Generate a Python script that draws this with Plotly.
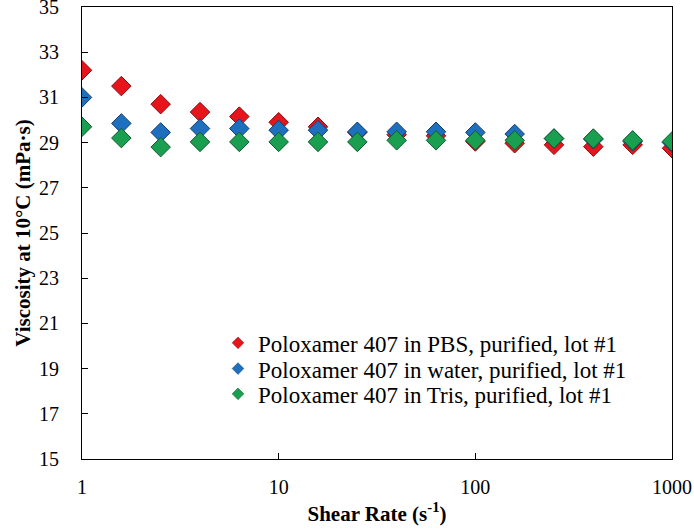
import plotly.graph_objects as go

# shear rate (1/s), 5 points per decade
shear_rate = [1, 1.585, 2.512, 3.981, 6.31, 10, 15.85, 25.12, 39.81, 63.1,
              100, 158.5, 251.2, 398.1, 631, 1000]

# viscosity at 10 C (mPa.s)
visc_pbs = [32.2, 31.5, 30.7, 30.35, 30.15, 29.9, 29.7, 29.45, 29.35, 29.3,
            29.05, 28.97, 28.9, 28.82, 28.9, 28.75]
visc_water = [31.0, 29.85, 29.45, 29.62, 29.62, 29.55, 29.55, 29.48, 29.48, 29.48,
              29.45, 29.38, 29.18, 29.15, 29.05, 29.0]
visc_tris = [29.7, 29.2, 28.8, 29.03, 29.03, 29.03, 29.03, 29.03, 29.1, 29.1,
             29.1, 29.1, 29.18, 29.18, 29.1, 29.05]

series = [
    ("Poloxamer 407 in PBS, purified, lot #1", visc_pbs, "#e8141c", "#8a0c10"),
    ("Poloxamer 407 in water, purified, lot #1", visc_water, "#1f6fbf", "#123f70"),
    ("Poloxamer 407 in Tris, purified, lot #1", visc_tris, "#1a9e50", "#0e5a2c"),
]
legend_ids = ["legend", "legend2", "legend3"]
legend_y = [0.257, 0.200, 0.144]

SERIF = "Liberation Serif, Times New Roman, serif"

fig = go.Figure()

# 数据点 (big diamonds)
for name, vals, color, edge in series:
    fig.add_trace(go.Scatter(x=shear_rate, y=vals, mode="markers", name=name,
                             showlegend=False,
                             marker=dict(symbol="diamond", size=15, color=color,
                                         line=dict(color=edge, width=1))))

# 图例 (small markers, one legend per row so the rows sit close together)
for (name, vals, color, edge), lg in zip(series, legend_ids):
    fig.add_trace(go.Scatter(x=[None], y=[None], mode="markers", name=name, legend=lg,
                             marker=dict(symbol="diamond", size=9, color=color,
                                         line=dict(color=edge, width=0.5))))

fig.update_xaxes(type="log", range=[0, 3], tickvals=[1, 10, 100, 1000],
                 ticktext=["1", "10", "100", "1000"],
                 ticks="inside", ticklen=6, tickcolor="black",
                 showline=True, linecolor="black", linewidth=1.2, mirror=True,
                 showgrid=False, zeroline=False, ticklabelstandoff=10,
                 ticklabeloverflow="allow", automargin=False,
                 tickfont=dict(family=SERIF, size=20, color="black"),
                 title=dict(text="<b>Shear Rate (s<sup>-1</sup>)</b>", standoff=9,
                            font=dict(family=SERIF, size=21, color="black")))

fig.update_yaxes(range=[15, 35], tickvals=list(range(15, 36, 2)),
                 ticks="inside", ticklen=6, tickcolor="black",
                 showline=True, linecolor="black", linewidth=1.2, mirror=True,
                 showgrid=False, zeroline=False, ticklabelstandoff=18,
                 ticklabeloverflow="allow", automargin=False,
                 tickfont=dict(family=SERIF, size=20, color="black"),
                 title=dict(text="<b>Viscosity at 10\u00b0C (mPa\u00b7s)</b>", standoff=2,
                            font=dict(family=SERIF, size=21, color="black")))

legend_style = dict(x=0.2305, xanchor="left", yanchor="middle",
                    bgcolor="rgba(0,0,0,0)", itemwidth=30,
                    font=dict(family=SERIF, size=23, color="black"))

fig.update_layout(width=694, height=529,
                  margin=dict(l=82, r=22, t=7, b=70),
                  paper_bgcolor="white", plot_bgcolor="white",
                  legend=dict(y=legend_y[0], **legend_style),
                  legend2=dict(y=legend_y[1], **legend_style),
                  legend3=dict(y=legend_y[2], **legend_style))

fig.write_html("out.html", config={"displayModeBar": False},
               post_script="document.body.style.margin='0';")
